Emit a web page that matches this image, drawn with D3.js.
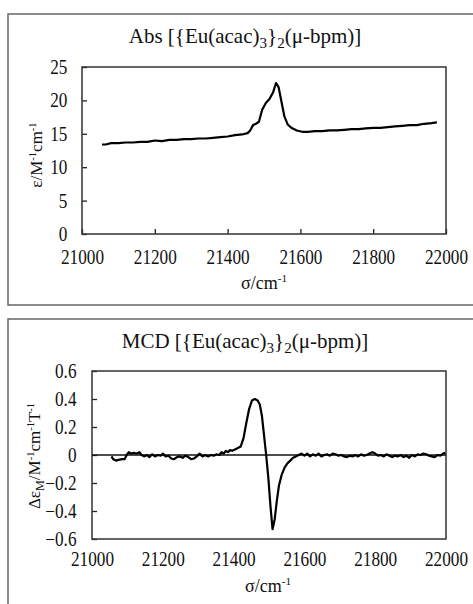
<!DOCTYPE html>
<html>
<head>
<meta charset="utf-8">
<script src="https://cdn.jsdelivr.net/npm/d3@7"></script>
<style>
  body { margin: 0; background: #fff; }
  svg { display: block; }
  svg text { font-family: "Liberation Serif", "Times New Roman", serif !important; fill: #111; }
</style>
</head>
<body>
<svg id="chart"></svg>
<script>
// absorption spectrum
const absSigma = [21055, 21065, 21080, 21100, 21120, 21140, 21160, 21180, 21200, 21220, 21240, 21260, 21280, 21300,
  21320, 21340, 21360, 21380, 21400, 21420, 21440, 21455, 21462, 21470, 21478, 21486, 21495, 21505, 21515, 21525,
  21533, 21540, 21548, 21556, 21565, 21575, 21590, 21605, 21620, 21640, 21660, 21680, 21700, 21720, 21740, 21760,
  21780, 21800, 21820, 21840, 21860, 21880, 21900, 21920, 21940, 21960, 21975]
const absEps = [13.4, 13.4, 13.6, 13.6, 13.7, 13.7, 13.8, 13.8, 14.0, 13.9, 14.1, 14.1, 14.2, 14.2,
  14.3, 14.3, 14.4, 14.5, 14.6, 14.8, 14.9, 15.1, 15.5, 16.3, 16.5, 16.8, 18.6, 19.6, 20.2, 21.2,
  22.6, 22.0, 19.8, 17.6, 16.4, 15.9, 15.5, 15.3, 15.3, 15.4, 15.4, 15.5, 15.5, 15.6, 15.7, 15.7,
  15.8, 15.9, 15.9, 16.0, 16.1, 16.2, 16.3, 16.3, 16.5, 16.6, 16.7]

// MCD spectrum
const mcdSigma = [21055, 21060, 21068, 21075, 21085, 21092, 21098, 21104, 21110, 21118, 21126, 21134, 21140, 21148,
  21155, 21162, 21170, 21178, 21186, 21194, 21200, 21208, 21216, 21224, 21232, 21240, 21248, 21256, 21264, 21272,
  21280, 21288, 21296, 21304, 21312, 21320, 21328, 21336, 21344, 21352, 21360, 21366, 21372, 21378, 21384, 21390,
  21396, 21404, 21412, 21420, 21428, 21436, 21444, 21452, 21460, 21468, 21474, 21480, 21486, 21492, 21498, 21504,
  21510, 21516, 21522, 21528, 21536, 21544, 21552, 21560, 21568, 21576, 21584, 21592, 21600, 21608, 21616, 21624,
  21632, 21640, 21648, 21656, 21664, 21672, 21680, 21688, 21696, 21704, 21712, 21720, 21728, 21736, 21744, 21752,
  21760, 21768, 21776, 21784, 21792, 21800, 21808, 21816, 21824, 21832, 21840, 21848, 21856, 21864, 21872, 21880,
  21888, 21896, 21904, 21912, 21920, 21928, 21936, 21944, 21952, 21960, 21968, 21976, 21984, 21992, 21998]
const mcdDelta = [-0.01, -0.03, -0.04, -0.035, -0.03, -0.03, 0.0, 0.02, 0.01, 0.015, 0.01, 0.02, 0.0, -0.01,
  0.0, -0.015, 0.005, -0.01, 0.0, -0.005, 0.01, -0.01, -0.005, -0.025, -0.03, -0.015, -0.01, -0.02, -0.005, -0.015,
  -0.03, -0.025, -0.01, 0.01, -0.01, 0.0, -0.01, 0.0, -0.005, 0.005, 0.0, 0.02, 0.01, 0.03, 0.02, 0.035,
  0.03, 0.04, 0.05, 0.06, 0.12, 0.23, 0.33, 0.39, 0.40, 0.39, 0.36, 0.28, 0.14, 0.0, -0.16, -0.36,
  -0.53, -0.46, -0.33, -0.22, -0.14, -0.09, -0.06, -0.04, -0.02, -0.01, 0.0, 0.01, -0.005, 0.01, -0.01, 0.005,
  -0.005, 0.01, -0.01, 0.0, 0.005, -0.005, 0.01, 0.005, -0.005, 0.0, -0.01, -0.015, -0.005, -0.01, 0.0, -0.01,
  0.005, -0.005, 0.0, 0.01, 0.02, 0.01, -0.005, 0.0, -0.01, 0.005, -0.005, -0.015, -0.005, -0.01, 0.0, -0.015,
  -0.005, -0.02, 0.0, -0.01, 0.005, 0.0, 0.01, 0.005, -0.005, -0.01, -0.015, 0.0, -0.005, 0.01, 0.015]

const xTicks = [21000, 21200, 21400, 21600, 21800, 22000]
const absYTicks = [0, 5, 10, 15, 20, 25]
const mcdYTicks = [-0.6, -0.4, -0.2, 0, 0.2, 0.4, 0.6]

const width = 473, height = 604
const squeeze = 0.86 // tick labels look narrow in the original
const svg = d3.select("#chart").attr("width", width).attr("height", height)

// outer frames of the two panels
svg.append("rect").attr("x", 8).attr("y", 14).attr("width", 480).attr("height", 291)
  .attr("fill", "none").attr("stroke", "#666").attr("stroke-width", 1.5)
svg.append("rect").attr("x", 8).attr("y", 319).attr("width", 480).attr("height", 300)
  .attr("fill", "none").attr("stroke", "#666").attr("stroke-width", 1.5)

// segments: [text, level] where level is 0 normal, 1 superscript, -1 subscript
function rich(t, segs) {
  const shift = {"0": 0, "1": -0.38, "-1": 0.22}
  let cur = 0
  segs.forEach(([s, lv]) => {
    const size = lv === 0 ? 1 : (lv > 0 ? 0.62 : 0.72)
    const target = shift[lv] * t.attr("font-size")
    t.append("tspan").attr("font-size", (size * t.attr("font-size")).toFixed(1))
      .attr("dy", target - cur).text(s)
    cur = target
  })
}

function panel(opt) {
  const m = opt.m
  const x = d3.scaleLinear().domain([21000, 22000]).range([m.left, m.right])
  const y = d3.scaleLinear().domain(opt.yDomain).range([m.bottom, m.top])
  const g = svg.append("g")

  // y axis, ticks pointing inwards
  g.append("g")
    .attr("transform", `translate(${m.left},0)`)
    .call(d3.axisLeft(y).tickValues(opt.yTicks).tickSize(-5).tickPadding(opt.yPad).tickFormat(opt.yFmt))
    .call(g => g.select(".domain").remove())
    .call(g => g.selectAll("line").attr("stroke", "#222").attr("stroke-width", 1.3))
    .call(g => g.selectAll("text").attr("font-size", 20).attr("fill", "#111")
      .attr("transform", `scale(${squeeze},1)`))

  // x axis labels at the bottom
  g.append("g")
    .attr("transform", `translate(0,${m.bottom})`)
    .call(d3.axisBottom(x).tickValues(xTicks).tickSize(opt.xTickSize).tickPadding(opt.xPad).tickFormat(d3.format("d")))
    .call(g => g.select(".domain").remove())
    .call(g => g.selectAll("line").attr("stroke", "#222").attr("stroke-width", 1.3).attr("y2", -opt.xTickSize))
    .call(g => g.selectAll("text").attr("font-size", 20).attr("fill", "#111")
      .attr("transform", `scale(${squeeze},1)`))

  // plot frame
  g.append("rect").attr("x", m.left).attr("y", m.top)
    .attr("width", m.right - m.left).attr("height", m.bottom - m.top)
    .attr("fill", "none").attr("stroke", "#333").attr("stroke-width", 1.5)

  if (opt.zeroLine) {
    g.append("line").attr("x1", m.left).attr("x2", m.right)
      .attr("y1", y(0)).attr("y2", y(0))
      .attr("stroke", "#111").attr("stroke-width", 1.5)
  }

  const data = opt.xs.map((d, i) => [d, opt.ys[i]])
  g.append("path").datum(data)
    .attr("fill", "none").attr("stroke", "#000").attr("stroke-width", 2.2)
    .attr("stroke-linejoin", "round")
    .attr("d", d3.line().x(d => x(d[0])).y(d => y(d[1])))

  const t = g.append("text").attr("x", opt.titleX).attr("y", opt.titleY)
    .attr("text-anchor", "middle").attr("font-size", 21)
  rich(t, [[opt.title + " [{Eu(acac)", 0], ["3", -1], ["}", 0], ["2", -1], ["(μ-bpm)]", 0]])

  const xl = g.append("text").attr("x", opt.xlX).attr("y", opt.xlY)
    .attr("text-anchor", "middle").attr("font-size", 18)
  rich(xl, [["σ/cm", 0], ["-1", 1]])

  const yl = g.append("text")
    .attr("transform", `translate(${opt.ylX},${opt.ylY}) rotate(-90)`)
    .attr("text-anchor", "middle").attr("font-size", 17)
  rich(yl, opt.yLabel)
}

panel({
  m: {left: 82, right: 446, top: 67, bottom: 234},
  yDomain: [0, 25], yTicks: absYTicks, yFmt: d3.format("d"),
  yPad: 17, xTickSize: 5, xPad: 11,
  xs: absSigma, ys: absEps,
  title: "Abs", titleX: 245, titleY: 43,
  xlX: 264, xlY: 289, ylX: 42, ylY: 155,
  yLabel: [["ε/M", 0], ["-1", 1], ["cm", 0], ["-1", 1]]
})

panel({
  m: {left: 92, right: 446, top: 371, bottom: 539},
  yDomain: [-0.6, 0.6], yTicks: mcdYTicks, yFmt: d => d === 0 ? "0" : d3.format(".1f")(d),
  yPad: 18, xTickSize: 0, xPad: 13,
  xs: mcdSigma, ys: mcdDelta, zeroLine: true,
  title: "MCD", titleX: 245, titleY: 348,
  xlX: 268, xlY: 592, ylX: 40, ylY: 456,
  yLabel: [["Δε", 0], ["M", -1], ["/M", 0], ["-1", 1], ["cm", 0], ["-1", 1], ["T", 0], ["-1", 1]]
})
</script>
</body>
</html>
